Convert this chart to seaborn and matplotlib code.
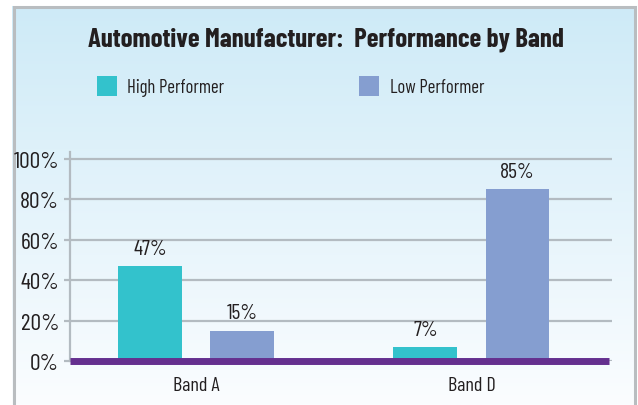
import numpy as np
import pandas as pd
import matplotlib
matplotlib.use("Agg")
import matplotlib.pyplot as plt
from matplotlib.patches import Rectangle
from matplotlib.colors import LinearSegmentedColormap
import seaborn as sns

# ---- data ----
bands = ["Band A", "Band D"]
high_performer = [47, 7]
low_performer = [15, 85]
series_names = ["High Performer", "Low Performer"]
y_ticks = [0, 20, 40, 60, 80, 100]
y_tick_labels = ["0%", "20%", "40%", "60%", "80%", "100%"]
title = "Automotive Manufacturer:  Performance by Band"

df = pd.DataFrame({
    "band": bands * 2,
    "value": high_performer + low_performer,
    "group": [series_names[0]] * len(bands) + [series_names[1]] * len(bands),
})

TEAL = "#33C2CC"
LAV = "#859ED0"
PURPLE = "#65308F"
GRID = "#B3BBC1"
TXT = "#231F20"

sns.set_theme(style="white")
plt.rcParams["font.family"] = ["Barlow Condensed", "DejaVu Sans"]

W, H = 638, 406
fig = plt.figure(figsize=(W / 100, H / 100), dpi=100)

# background gradient
bg = fig.add_axes([0, 0, 1, 1], zorder=-10)
grad = np.linspace(0, 1, 256).reshape(-1, 1)
cmap = LinearSegmentedColormap.from_list("bg", ["#CDEAF7", "#FBFDFF"])
bg.imshow(grad, aspect="auto", cmap=cmap, extent=[0, 1, 0, 1], origin="upper")
bg.set_xlim(0, 1)
bg.set_ylim(0, 1)
bg.axis("off")
bg.add_patch(Rectangle((0, 1 - 7 / H), 1, 7 / H, facecolor="white", edgecolor="none", zorder=5))
bg.add_patch(Rectangle((0, 0), 12 / W, 1, facecolor="white", edgecolor="none", zorder=5))
bg.add_patch(Rectangle((636 / W, 0), 2 / W, 1, facecolor="white", edgecolor="none", zorder=5))
bg.plot([13.5 / W, 13.5 / W, 634.5 / W, 634.5 / W], [-0.01, 1 - 8 / H, 1 - 8 / H, -0.01],
        color="#B9BDC0", lw=2.2, zorder=6, clip_on=False, solid_joinstyle="miter")

# main axes
x0, x1 = 70, 612
ytop, ybot = 153, 362
ax = fig.add_axes([x0 / W, (H - ybot) / H, (x1 - x0) / W, (ybot - ytop) / H])
ax.set_facecolor("none")

sns.barplot(data=df, x="band", y="value", hue="group", palette=[TEAL, LAV],
            width=0.668, gap=0.305, ax=ax, saturation=1, legend=True, zorder=2,
            edgecolor="none", linewidth=0)

ax.set_xlim(-0.457, 1.51)
ax.set_ylim(0, 103.5)
ax.set_yticks(y_ticks)
ax.set_yticklabels(y_tick_labels)
ax.yaxis.grid(True, color=GRID, lw=1.6, zorder=0)
ax.set_axisbelow(True)
for s in ["top", "right", "bottom"]:
    ax.spines[s].set_visible(False)
ax.spines["left"].set_color(GRID)
ax.spines["left"].set_linewidth(1.6)
ax.tick_params(axis="y", which="both", left=True, length=4, width=1.6, color=GRID,
               labelsize=17, labelcolor=TXT, pad=4)
ax.tick_params(axis="x", length=0, labelsize=14.5, labelcolor=TXT, pad=11)
ax.set_xlabel("")
ax.set_ylabel("")

ax.axhline(0, xmin=0, xmax=(609 - x0) / (x1 - x0), color=PURPLE, lw=5, zorder=4,
           clip_on=False, solid_capstyle="butt")

for c in ax.containers:
    ax.bar_label(c, fmt="%d%%", padding=6, fontsize=15.5, color=TXT)

handles, labels = ax.get_legend_handles_labels()
ax.get_legend().remove()
fig.legend(handles, labels, loc="center left", bbox_to_anchor=(80 / W, 1 - 87 / H),
           ncol=2, frameon=False, handlelength=1.07, handleheight=1.3,
           handletextpad=0.55, columnspacing=7.2, fontsize=13.5, labelcolor=TXT)

fig.text(326 / W, 1 - 40 / H, title, ha="center", va="center", fontsize=19.3,
         fontweight="bold", color=TXT)

fig.savefig("out.png", dpi=100)
